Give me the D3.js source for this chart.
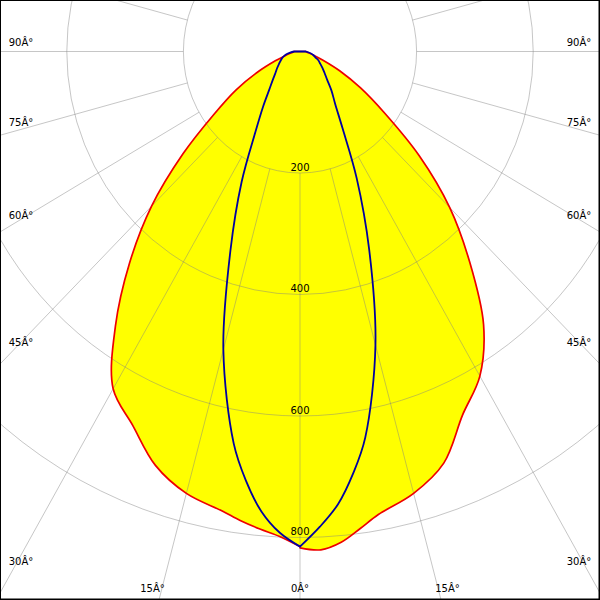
<!DOCTYPE html>
<html><head><meta charset="utf-8">
<script src="https://cdn.jsdelivr.net/npm/d3@7"></script>
<style>html,body{margin:0;padding:0;background:#fff}svg{display:block}</style>
</head><body>
<div id="chart"></div>
<script>
// ---- data ----
const gammaDeg = [0, 2.5, 5, 7.5, 10, 15, 20, 25, 30, 35, 40, 45, 50, 55, 60, 65, 70, 75, 80, 85, 90];
// C0-C180 plane (red, filled)
const redC180 = [815, 799, 789, 779, 768, 753, 725, 679, 641, 552, 455, 360, 262, 180, 127, 80, 45, 26, 17, 12, 10];
const redC0   = [817, 821, 811, 792, 774, 753, 721, 660, 617, 549, 453, 363, 267, 178, 120, 75, 42, 25, 17, 12, 10];
// C90-C270 plane (blue)
const blueC270 = [815, 793, 760, 712, 655, 508, 349, 237, 153, 110, 82, 66, 55, 48, 42, 37, 33, 28, 22, 16, 10];
const blueC90  = [815, 783, 748, 700, 645, 500, 347, 230, 146, 105, 84, 66, 55, 47, 40, 35, 28, 24, 19, 14, 10];
// grid
const ringValues = [200, 400, 600, 800];
const ringLabels = ["200", "400", "600", "800"];
const spokeAngles = d3.range(0, 360, 15);
const sideAngleLabels = [90, 75, 60, 45, 30];
const bottomAngleLabels = [15, 0];
const degSuffix = "Â°";

// ---- layout ----
const W = 600, H = 600;
const cx = 300, cy = 51.5;
const sx = d3.scaleLinear().domain([0, 800]).range([0, 466.4]);
const sy = d3.scaleLinear().domain([0, 800]).range([0, 486]);
const rad = d => d * Math.PI / 180;
function pt(I, g, side) {
  const a = rad(g);
  return [cx + side * sx(I) * Math.sin(a), cy + sy(I) * Math.cos(a)];
}

const svg = d3.select("#chart").append("svg").attr("width", W).attr("height", H);
svg.append("rect").attr("width", W).attr("height", H).attr("fill", "#fff");

const lineGen = d3.line().curve(d3.curveCatmullRom.alpha(0.5));
function outline(leftVals, rightVals) {
  const L = gammaDeg.map((g, i) => pt(leftVals[i], g, -1)).reverse();
  const R = gammaDeg.map((g, i) => pt(rightVals[i], g, 1));
  return lineGen(L) + lineGen(R).replace(/^M/, "L") + "Z";
}

// yellow fill of the wide (red) distribution
svg.append("path").attr("d", outline(redC180, redC0)).attr("fill", "#ffff00").attr("stroke", "none");

// grid
const grid = svg.append("g").attr("fill", "none").attr("stroke", "#808080").attr("stroke-opacity", 0.45).attr("stroke-width", 1);
grid.selectAll("ellipse").data(ringValues).join("ellipse")
  .attr("cx", cx).attr("cy", cy).attr("rx", d => sx(d)).attr("ry", d => sy(d));
grid.selectAll("line").data(spokeAngles).join("line")
  .attr("x1", a => pt(ringValues[0], a, 1)[0]).attr("y1", a => pt(ringValues[0], a, 1)[1])
  .attr("x2", a => pt(2000, a, 1)[0]).attr("y2", a => pt(2000, a, 1)[1]);

// ring labels
svg.append("g").attr("font-family", "DejaVu Sans, Verdana, sans-serif").attr("font-size", 10)
  .attr("text-anchor", "middle").attr("fill", "#000")
  .selectAll("text").data(ringValues).join("text")
  .attr("x", cx).attr("y", d => cy + sy(d) - 2.5).text((d, i) => ringLabels[i]);

// angle labels
const angG = svg.append("g").attr("font-family", "DejaVu Sans, Verdana, sans-serif").attr("font-size", 10)
  .attr("fill", "#000").attr("text-anchor", "middle");
const ratio = g => (sy(1) * Math.cos(rad(g))) / (sx(1) * Math.sin(rad(g)));
[-1, 1].forEach(side => {
  sideAngleLabels.forEach(g => {
    const yLine = cy + (cx - 12) * ratio(g);
    angG.append("text").attr("x", cx + side * 279).attr("y", yLine - 9.5).attr("dy", "0.35em")
      .text(g + degSuffix);
  });
});
bottomAngleLabels.forEach(g => {
  const sides = g === 0 ? [0] : [-1, 1];
  sides.forEach(side => {
    const yB = 588;
    const xLine = cx + side * (yB - cy) * Math.tan(rad(g)) * sx(1) / sy(1);
    angG.append("text").attr("x", xLine + side * 9.5).attr("y", yB).attr("dy", "0.35em")
      .text(g + degSuffix);
  });
});

// curves
svg.append("path").attr("d", outline(redC180, redC0)).attr("fill", "none")
  .attr("stroke", "#ee0000").attr("stroke-width", 1.7).attr("stroke-linejoin", "round");
svg.append("path").attr("d", outline(blueC270, blueC90)).attr("fill", "none")
  .attr("stroke", "#0000a0").attr("stroke-width", 1.8).attr("stroke-linejoin", "round");

// frame
svg.append("rect").attr("x", 0.5).attr("y", 0.5).attr("width", W - 1.5).attr("height", H - 1.5)
  .attr("fill", "none").attr("stroke", "#000").attr("stroke-width", 1);
svg.append("line").attr("x1", W - 0.5).attr("y1", 0).attr("x2", W - 0.5).attr("y2", H).attr("stroke", "#000");
svg.append("line").attr("x1", 0).attr("y1", H - 0.5).attr("x2", W).attr("y2", H - 0.5).attr("stroke", "#000");
</script>
</body></html>
